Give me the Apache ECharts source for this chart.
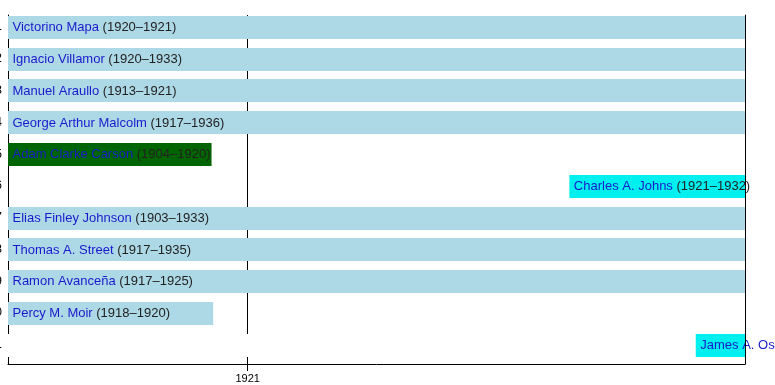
<!DOCTYPE html>
<html>
<head>
<meta charset="utf-8">
<script src="https://cdn.jsdelivr.net/npm/echarts@6/dist/echarts.min.js"></script>
<style>
html,body{margin:0;padding:0;background:#fff;}
#chart{width:775px;height:385px;}
</style>
</head>
<body>
<div id="chart"></div>
<script>
// ---- data ----
const seats = [1, 2, 3, 4, 5, 6, 7, 8, 9, 10, 11];
const justices = ['Victorino Mapa', 'Ignacio Villamor', 'Manuel Araullo', 'George Arthur Malcolm',
  'Adam Clarke Carson', 'Charles A. Johns', 'Elias Finley Johnson', 'Thomas A. Street',
  'Ramon Avanceña', 'Percy M. Moir', 'James A. Ostrand'];
const tenures = ['(1920–1921)', '(1920–1933)', '(1913–1921)', '(1917–1936)', '(1904–1920)',
  '(1921–1932)', '(1903–1933)', '(1917–1935)', '(1917–1925)', '(1918–1920)', '(1921–1933)'];
const starts = ['1920-07-01', '1920-07-01', '1913-01-01', '1917-01-01', '1904-07-01',
  '1921-07-16', '1903-01-01', '1917-01-01', '1917-01-01', '1918-01-01', '1921-10-01'];
const ends = ['1921-10-31', '1933-01-01', '1921-11-01', '1936-01-01', '1920-12-10',
  '1932-01-01', '1933-01-01', '1935-01-01', '1925-01-01', '1920-12-11', '1933-01-01'];
const status = ['serving', 'serving', 'serving', 'serving', 'leaving',
  'joining', 'serving', 'serving', 'serving', 'serving', 'joining'];
// vacant period of seat 11 before its new justice
const vacantSeats = [11];
const vacantStarts = ['1920-08-08'];
const vacantEnds = ['1921-10-01'];
const periodStart = '1920-08-08';
const periodEnd = '1921-10-31';
const yearTicks = ['1921-01-01'];

// ---- styles ----
const statusColor = { serving: '#add8e6', leaving: '#006400', joining: '#00f0f0', vacant: '#ffffff' };
const FONT = '"Liberation Sans", Arial, Helvetica, sans-serif';

const t = s => Date.parse(s + 'T00:00:00Z');

const data = [];
vacantSeats.forEach((s, i) => data.push({ value: [s, t(vacantStarts[i]), t(vacantEnds[i])], kind: 'vacant', name: '', tenure: '' }));
seats.forEach((s, i) => data.push({ value: [s, t(starts[i]), t(ends[i])], kind: status[i], name: justices[i], tenure: tenures[i] }));

const chart = echarts.init(document.getElementById('chart'), null, { renderer: 'canvas' });

chart.setOption({
  animation: false,
  backgroundColor: '#fff',
  grid: { left: 8, top: 15, right: 30, bottom: 21, containLabel: false, outerBoundsMode: 'none' },
  xAxis: {
    type: 'value',
    min: t(periodStart),
    max: t(periodEnd),
    axisLine: { show: true, lineStyle: { color: '#000', width: 1 } },
    axisTick: { show: true, length: 7, customValues: yearTicks.map(t), lineStyle: { color: '#000' } },
    splitLine: { show: true, lineStyle: { color: '#000', width: 1 } },
    axisLabel: {
      customValues: yearTicks.map(t),
      formatter: v => String(new Date(v).getUTCFullYear()),
      color: '#000', fontSize: 11, fontFamily: FONT, margin: 9
    }
  },
  yAxis: [{
    type: 'value',
    inverse: true,
    min: 0.62, max: 11.6,
    axisLine: { show: true, lineStyle: { color: '#000', width: 1 } },
    axisTick: { show: false },
    splitLine: { show: false },
    axisLabel: { customValues: seats, color: '#000', fontSize: 12, fontFamily: FONT, margin: 6 }
  }, {
    type: 'value',
    position: 'right',
    inverse: true,
    min: 0.62, max: 11.6,
    z: 5,
    axisLine: { show: true, lineStyle: { color: '#000', width: 1 } },
    axisTick: { show: false },
    splitLine: { show: false },
    axisLabel: { show: false }
  }],
  series: [{
    type: 'custom',
    clip: false,
    encode: { x: [1, 2], y: 0 },
    data: data,
    renderItem: function (params, api) {
      const item = data[params.dataIndex];
      const row = api.value(0);
      const p1 = api.coord([api.value(1), row]);
      const p2 = api.coord([api.value(2), row]);
      const h = api.size([0, 1])[1] * 0.71;
      const cs = params.coordSys;
      const x1 = Math.max(p1[0], cs.x);
      const x2 = Math.min(p2[0], cs.x + cs.width);
      if (x2 <= x1) return null;
      const children = [{
        type: 'rect',
        shape: { x: x1, y: Math.round(p1[1] - h / 2), width: x2 - x1, height: Math.round(h) },
        style: { fill: statusColor[item.kind] }
      }];
      if (item.name) {
        children.push({
          type: 'text',
          style: {
            text: '{n|' + item.name + '} {y|' + item.tenure + '}',
            x: x1 + 4.5,
            y: p1[1] + 0.5,
            align: 'left',
            verticalAlign: 'middle',
            fontSize: 13,
            fontFamily: FONT,
            fill: '#222',
            rich: {
              n: { fill: '#1a1acc', fontSize: 13, fontFamily: FONT },
              y: { fill: '#222', fontSize: 13, fontFamily: FONT }
            }
          }
        });
      }
      return { type: 'group', children: children };
    }
  }]
});
</script>
</body>
</html>
